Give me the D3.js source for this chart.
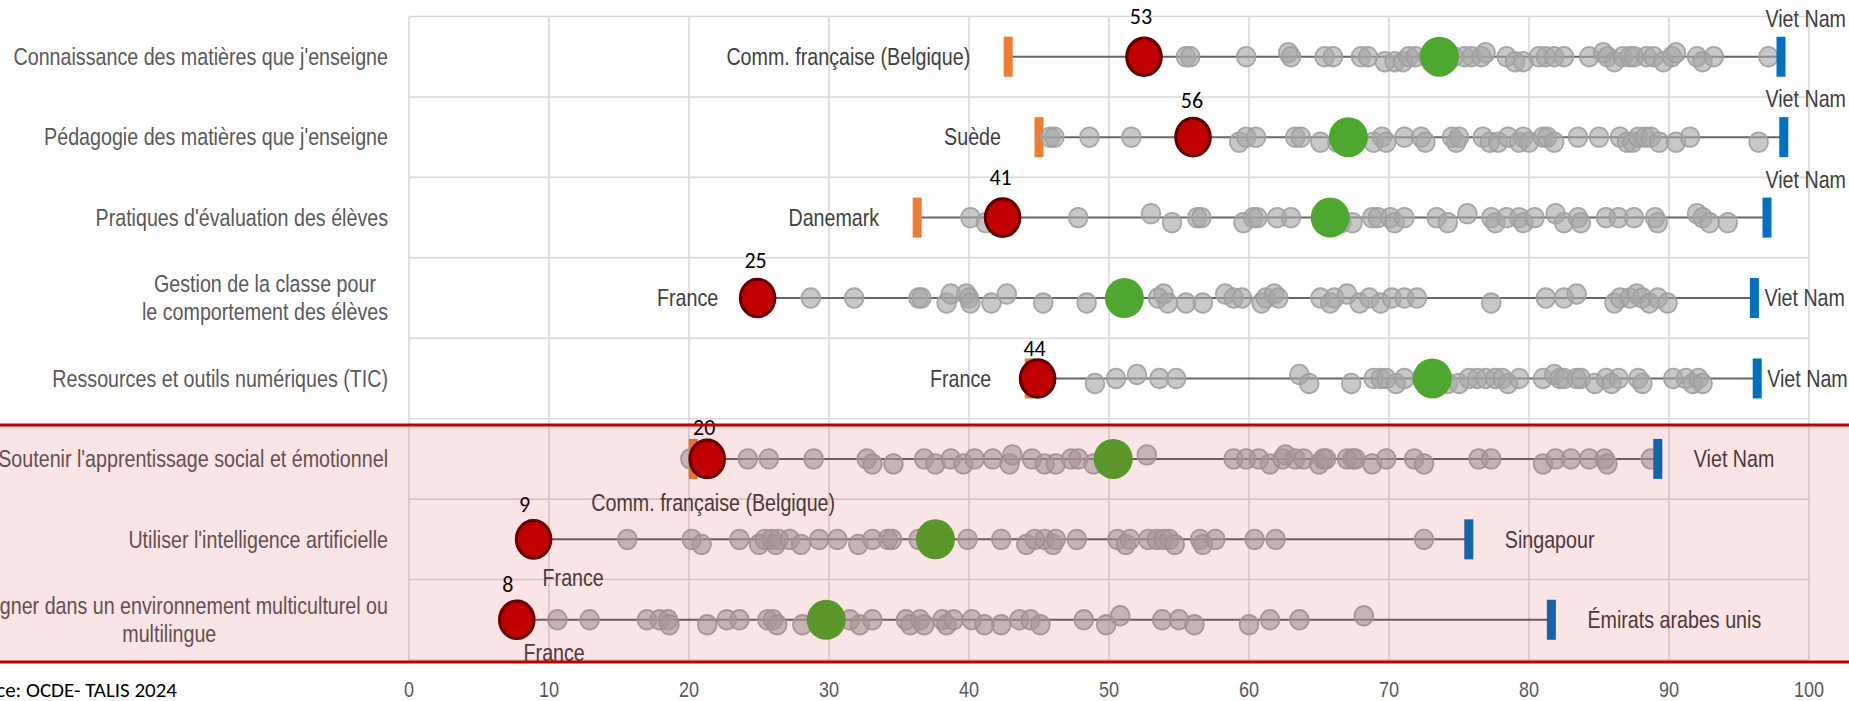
<!DOCTYPE html>
<html><head><meta charset="utf-8">
<script src="https://cdn.jsdelivr.net/npm/d3@7"></script>
<style>
html,body{margin:0;padding:0;background:#fff;overflow:hidden}
svg{display:block}
</style></head><body>
<svg id="chart" width="1849" height="701"></svg>
<script>
// ---------------- DATA ----------------
const categories = [
  "Connaissance des matières que j'enseigne",
  "Pédagogie des matières que j'enseigne",
  "Pratiques d'évaluation des élèves",
  "Gestion de la classe pour\nle comportement des élèves",
  "Ressources et outils numériques (TIC)",
  "Soutenir l'apprentissage social et émotionnel",
  "Utiliser l'intelligence artificielle",
  "Enseigner dans un environnement multiculturel ou\nmultilingue"
];
const minValues    = [42.8, 45.0, 36.3, 24.8, 44.3, 20.3, 8.8, 7.8];
const maxValues    = [98.0, 98.2, 97.0, 96.1, 96.3, 89.2, 75.7, 81.6];
const meanValues   = [73.6, 67.1, 65.8, 51.1, 73.1, 50.3, 37.6, 29.8];
const franceValues = [52.5, 56.0, 42.4, 24.9, 44.9, 21.3, 8.9, 7.7];
const franceLabels = ["53", "56", "41", "25", "44", "20", "9", "8"];
const minCountries = ["Comm. française (Belgique)", "Suède", "Danemark", "France", "France",
                      "Comm. française (Belgique)", "France", "France"];
const maxCountries = ["Viet Nam", "Viet Nam", "Viet Nam", "Viet Nam", "Viet Nam",
                      "Viet Nam", "Singapour", "Émirats arabes unis"];
const xTickValues = [0, 10, 20, 30, 40, 50, 60, 70, 80, 90, 100];
const sourceText = "Source: OCDE- TALIS 2024";

// other systems: [value, small vertical jitter (-1 up, 0 on line, 1 down)]
const row1 = [[55.5,0],[55.8,0],[59.8,0],[62.8,-1],[63.0,0],[65.4,0],[66.0,0],[68.0,0],[68.5,0],[69.7,1],[70.4,1],[71.0,1],[71.4,0],[71.9,0],[72.8,0],[74.6,0],[75.4,0],[75.9,0],[76.6,0],[76.9,-1],[78.4,0],[79.0,1],[79.6,1],[80.7,0],[81.2,0],[81.8,0],[82.5,0],[84.3,0],[85.3,-1],[85.6,0],[86.1,1],[86.7,0],[87.2,0],[87.5,0],[88.4,0],[88.9,0],[89.6,1],[90.2,0],[90.5,-1],[92.0,0],[92.4,1],[93.2,0],[97.1,0]];
const row2 = [[45.8,0],[46.1,0],[48.6,0],[51.6,0],[59.3,1],[59.8,0],[60.5,0],[63.3,0],[63.7,0],[65.1,1],[66.3,1],[68.9,1],[69.5,0],[69.8,1],[71.1,0],[72.3,0],[72.6,1],[74.5,0],[74.8,1],[75.0,0],[76.7,0],[77.2,1],[77.8,1],[78.5,0],[79.3,1],[79.6,0],[80.0,1],[81.0,0],[81.3,0],[81.8,1],[83.5,0],[85.0,0],[86.5,0],[87.0,1],[87.4,1],[87.8,0],[88.3,0],[88.7,0],[89.3,1],[90.5,1],[91.5,0],[96.4,1]];
const row3 = [[40.1,0],[41.2,1],[47.8,0],[53.0,-1],[54.5,1],[56.3,0],[56.6,0],[59.6,1],[60.3,0],[60.6,0],[62.0,0],[63.0,0],[66.6,1],[67.4,1],[68.8,0],[69.2,0],[70.1,0],[70.4,1],[71.1,0],[73.4,0],[74.2,1],[75.6,-1],[77.3,0],[77.6,1],[78.4,0],[79.3,0],[79.6,1],[80.4,0],[81.9,-1],[82.5,1],[83.5,0],[83.7,1],[85.5,0],[86.4,0],[87.5,0],[89.0,0],[89.2,1],[92.0,-1],[92.4,0],[92.9,1],[94.2,1]];
const row4 = [[28.7,0],[31.8,0],[36.4,0],[36.6,0],[38.4,1],[38.7,-1],[39.8,-1],[40.0,0],[40.1,1],[41.6,1],[42.7,-1],[45.3,1],[48.4,1],[53.5,0],[53.9,-1],[54.2,1],[55.5,1],[56.7,1],[58.3,-1],[58.9,0],[59.5,0],[60.9,1],[61.2,0],[61.8,-1],[62.1,0],[65.1,0],[65.8,1],[66.1,0],[67.0,-1],[67.9,1],[68.6,0],[69.4,1],[70.2,0],[71.1,0],[72.0,0],[77.3,1],[81.2,0],[82.5,0],[83.4,-1],[86.1,1],[86.5,0],[87.2,0],[87.7,-1],[88.1,0],[88.6,1],[89.2,0],[89.9,1]];
const row5 = [[49.0,1],[50.5,0],[52.0,-1],[53.6,0],[54.8,0],[63.6,-1],[64.3,1],[67.3,1],[68.9,0],[69.4,0],[69.8,0],[70.5,1],[71.1,0],[72.3,0],[74.2,1],[75.0,1],[75.7,0],[76.3,0],[76.9,0],[77.6,0],[78.1,0],[78.5,1],[79.3,0],[81.0,0],[81.8,-1],[82.2,0],[82.5,0],[83.4,0],[83.7,0],[84.7,1],[85.5,0],[85.9,1],[86.4,0],[87.8,0],[88.1,1],[90.3,0],[91.2,0],[91.7,1],[92.1,0],[92.4,1]];
const row6 = [[20.1,0],[24.2,0],[25.7,0],[28.9,0],[32.7,0],[33.1,1],[34.6,1],[36.8,0],[37.6,1],[38.7,0],[39.6,1],[40.4,0],[41.7,0],[42.9,1],[43.1,-1],[44.5,0],[45.4,1],[46.2,1],[47.3,0],[47.8,0],[48.9,1],[52.7,-1],[58.9,0],[59.8,0],[60.7,0],[61.5,1],[62.4,0],[62.6,-1],[63.3,0],[63.9,0],[65.0,1],[65.3,0],[65.5,0],[67.0,0],[67.4,0],[67.6,0],[68.8,1],[69.8,0],[71.8,0],[72.5,1],[76.4,0],[77.3,0],[81.0,1],[81.9,0],[83.0,0],[84.3,0],[85.4,0],[85.6,1],[88.7,0]];
const row7 = [[15.6,0],[20.2,0],[20.9,1],[23.6,0],[25.0,1],[25.4,0],[25.9,0],[26.2,1],[26.4,0],[27.2,0],[28.0,1],[29.3,0],[30.6,0],[32.1,1],[33.1,0],[34.2,0],[34.5,0],[36.4,0],[39.9,0],[42.3,0],[44.1,1],[44.7,0],[45.4,0],[46.0,1],[46.2,0],[47.7,0],[50.6,0],[51.2,1],[51.5,0],[52.8,0],[53.4,0],[53.9,0],[54.3,0],[54.7,1],[56.5,0],[56.7,1],[57.6,0],[60.4,0],[61.9,0],[72.5,0]];
const row8 = [[10.6,0],[12.9,0],[17.0,0],[17.9,0],[18.5,0],[18.6,1],[21.3,1],[22.7,0],[23.6,0],[25.6,0],[26.0,0],[26.3,1],[28.1,1],[31.5,0],[32.2,1],[33.1,0],[35.5,0],[35.8,1],[36.5,0],[36.8,1],[38.1,0],[38.4,1],[38.9,0],[40.2,0],[41.1,1],[42.3,1],[43.6,0],[44.4,0],[45.1,1],[48.2,0],[49.8,1],[50.8,-1],[53.8,0],[55.0,0],[56.1,1],[60.0,1],[61.5,0],[63.6,0],[68.2,-1]];
const otherSystems = [row1, row2, row3, row4, row5, row6, row7, row8];

// ---------------- LAYOUT ----------------
const W = 1849, H = 701;
const svg = d3.select('#chart');
const x = d3.scaleLinear().domain([0, 100]).range([409, 1809]);
const y = d3.scaleBand().domain(d3.range(categories.length)).range([16.5, 660]).padding(0);
const cy = i => y(i) + y.bandwidth() / 2;

// narrow font detection
const probe = svg.append('text').style('font-size', '24px')
  .style('font-family', "'Liberation Sans Narrow', monospace").text('Connaissance des matières');
const wN = probe.node().getComputedTextLength();
probe.style('font-family', "'Liberation Sans', monospace");
const wR = probe.node().getComputedTextLength();
probe.remove();
const hasNarrow = wN < wR * 0.95;
const sx = hasNarrow ? 1 : 0.82;
const NFONT = hasNarrow ? "'Liberation Sans Narrow', sans-serif" : "'Liberation Sans', Arial, sans-serif";
const CFONT = "Carlito, Calibri, 'Open Sans', sans-serif";

function ntext(parent, px, py, str, anchor, size, color) {
  const g = parent.append('g').attr('transform', `translate(${px},${py}) scale(${sx},1)`);
  const t = g.append('text').attr('text-anchor', anchor).attr('dominant-baseline', 'central')
    .style('font-family', NFONT).style('font-size', size + 'px').attr('fill', color).text(str);
  return t;
}

// gridlines
const grid = svg.append('g');
grid.selectAll('line.v').data(xTickValues).join('line')
  .attr('x1', d => x(d)).attr('x2', d => x(d)).attr('y1', 16.5).attr('y2', 660)
  .attr('stroke', '#d9d9d9').attr('stroke-width', 1.6);
grid.selectAll('line.h').data(d3.range(categories.length + 1)).join('line')
  .attr('x1', x(0)).attr('x2', x(100))
  .attr('y1', d => 16.5 + d * y.bandwidth()).attr('y2', d => 16.5 + d * y.bandwidth())
  .attr('stroke', '#d9d9d9').attr('stroke-width', 1.6);

// tick labels (axis)
const axis = d3.axisBottom(x).tickValues(xTickValues).tickSize(0).tickPadding(0).tickFormat(d3.format('d'));
const axG = svg.append('g').call(axis);
axG.select('.domain').remove();
axG.selectAll('.tick text').each(function(d) {
  const tk = d3.select(this.parentNode);
  d3.select(this).remove();
  tk.attr('transform', null);
  ntext(tk, x(d), 689, String(d), 'middle', 22, '#595959');
});

// category labels
const labG = svg.append('g');
categories.forEach((c, i) => {
  const lines = c.split('\n');
  if (lines.length === 1) {
    ntext(labG, 388, cy(i), c, 'end', 24, '#595959');
  } else {
    const ts = lines.map((l, k) => ntext(labG, 0, cy(i) + (k - (lines.length - 1) / 2) * 28, l, 'middle', 24, '#595959'));
    const maxW = d3.max(ts, t => t.node().getComputedTextLength()) * sx;
    const cx = 388 - maxW / 2;
    ts.forEach((t, k) => d3.select(t.node().parentNode)
      .attr('transform', `translate(${cx},${cy(i) + (k - (lines.length - 1) / 2) * 28}) scale(${sx},1)`));
  }
});

// rows
const marks = svg.append('g');
const jitterPx = j => j > 0 ? 5 : (j < 0 ? -4 : 0);
categories.forEach((c, i) => {
  const g = marks.append('g');
  const yc = cy(i);
  g.append('line').attr('x1', x(minValues[i])).attr('x2', x(maxValues[i]))
    .attr('y1', yc).attr('y2', yc).attr('stroke', '#666').attr('stroke-width', 2);
  g.append('rect').attr('x', x(minValues[i]) - 4.5).attr('y', yc - 20).attr('width', 9).attr('height', 40)
    .attr('fill', '#ED7D31');
  g.selectAll('ellipse.o').data(otherSystems[i]).join('ellipse')
    .attr('cx', d => x(d[0])).attr('cy', d => yc + jitterPx(d[1]))
    .attr('rx', 9.4).attr('ry', 9.8)
    .attr('fill', '#a6a6a6').attr('fill-opacity', 0.62)
    .attr('stroke', '#a0a0a0').attr('stroke-width', 1.8).attr('stroke-opacity', 0.9);
  g.append('ellipse').attr('cx', x(meanValues[i])).attr('cy', yc).attr('rx', 19.5).attr('ry', 20)
    .attr('fill', '#4EA72E');
  g.append('rect').attr('x', x(maxValues[i]) - 4.5).attr('y', yc - 20).attr('width', 9).attr('height', 40)
    .attr('fill', '#0070C0');
  g.append('ellipse').attr('cx', x(franceValues[i])).attr('cy', yc).attr('rx', 17.3).attr('ry', 18.8)
    .attr('fill', '#C00000').attr('stroke', '#5e0000').attr('stroke-width', 3);
});

// France value labels
const frDx = [-3, -1, -2, -2, -3, -3, -9, -9];
const frDy = [-40, -37, -40, -38, -30, -31, -35, -35];
const txtG = svg.append('g');
franceLabels.forEach((l, i) => {
  txtG.append('text').attr('x', x(franceValues[i]) + frDx[i]).attr('y', cy(i) + frDy[i])
    .attr('text-anchor', 'middle').attr('dominant-baseline', 'central')
    .style('font-family', CFONT).style('font-size', '22px').attr('fill', '#000').text(l);
});

// min country labels
const minPlace = [['left',0,0],['left',0,0],['left',0,0],['left',0,0],['left',0,0],
                  ['below',20,44],['below',41,38],['below',36,33]];
minCountries.forEach((n, i) => {
  const p = minPlace[i];
  if (p[0] === 'left') ntext(txtG, x(minValues[i]) - 38, cy(i), n, 'end', 24, '#404040');
  else ntext(txtG, x(minValues[i]) + p[1], cy(i) + p[2], n, 'middle', 24, '#404040');
});

// max country labels
const maxPlace = [['above'],['above'],['above'],['right',10],['right',10],['right',36],['right',36],['right',36]];
maxCountries.forEach((n, i) => {
  const p = maxPlace[i];
  if (p[0] === 'above') ntext(txtG, 1846, cy(i) - 38, n, 'end', 24, '#404040');
  else ntext(txtG, x(maxValues[i]) + p[1], cy(i), n, 'start', 24, '#404040');
});

// source
svg.append('text').attr('x', 177).attr('y', 690).attr('text-anchor', 'end').attr('dominant-baseline', 'central')
  .style('font-family', CFONT).style('font-size', '21px').attr('fill', '#000').text(sourceText);

// highlight box over new topics
const hl = svg.append('g');
hl.append('rect').attr('x', 0).attr('y', 425).attr('width', W).attr('height', 237)
  .attr('fill', '#C00000').attr('fill-opacity', 0.1);
hl.append('line').attr('x1', 0).attr('x2', W).attr('y1', 425).attr('y2', 425)
  .attr('stroke', '#C00000').attr('stroke-width', 3);
hl.append('line').attr('x1', 0).attr('x2', W).attr('y1', 662).attr('y2', 662)
  .attr('stroke', '#C00000').attr('stroke-width', 3);
</script>
</body></html>
